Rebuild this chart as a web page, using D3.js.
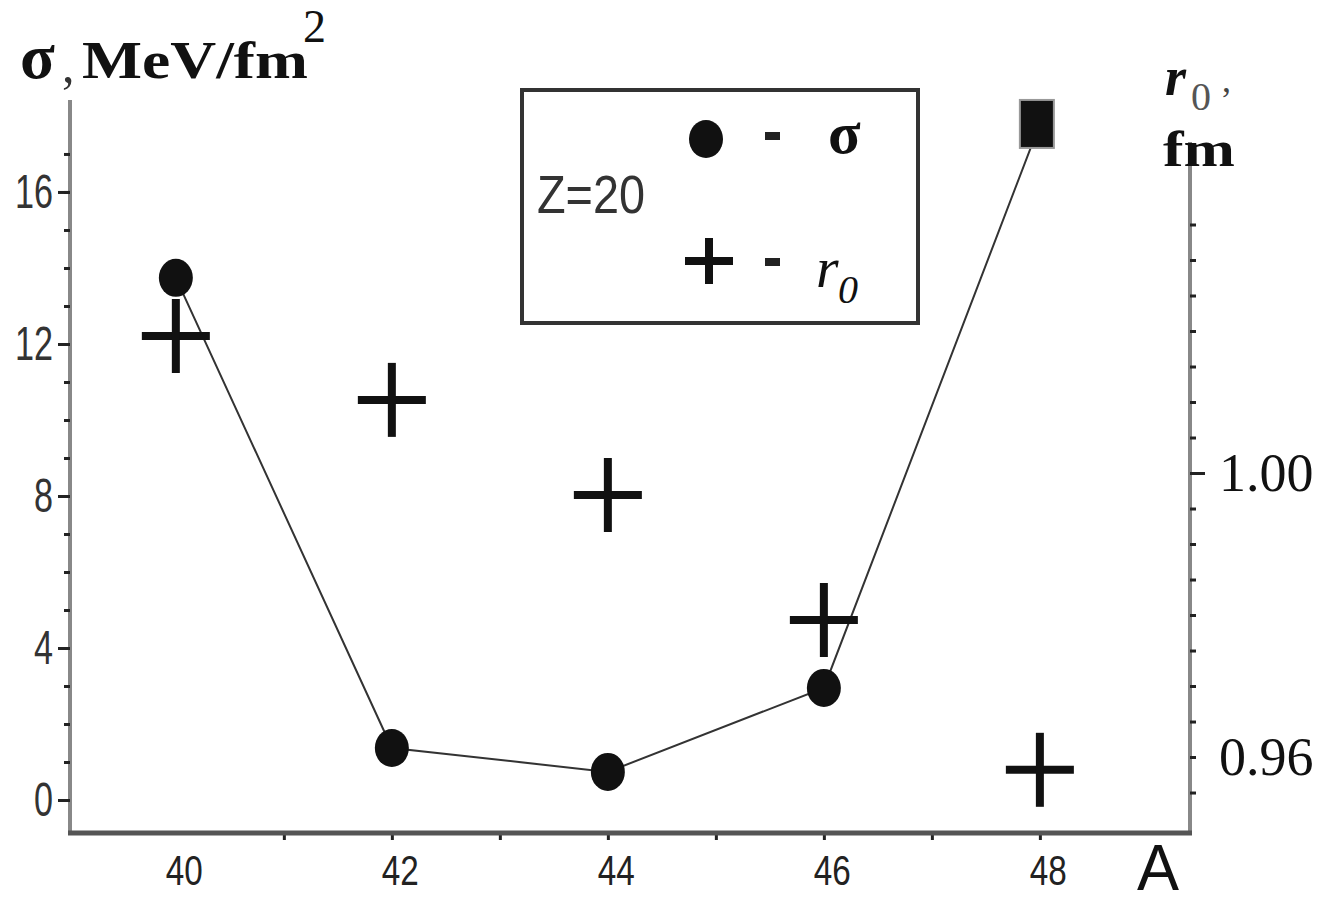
<!DOCTYPE html>
<html>
<head>
<meta charset="utf-8">
<script src="https://cdn.jsdelivr.net/npm/d3@7"></script>
<style>
  body { margin: 0; background: #fff; }
  svg { display: block; }
</style>
</head>
<body>
<div id="chart"></div>
<script>
// mass numbers and the two series
var massA = [40, 42, 44, 46, 48];
var sigma = [13.74, 1.37, 0.74, 2.95, 17.79];          // MeV/fm^2, left axis
var sigmaShape = ["circle", "circle", "circle", "circle", "square"];
var r0 = [1.0193, 1.0103, 0.9969, 0.9793, 0.9582];       // fm, right axis

var xLabels = [40, 42, 44, 46, 48];
var xMinor = [41, 42, 43, 44, 45, 46, 47, 48];
var sigmaLabels = [0, 4, 8, 12, 16];
var sigmaMinor = d3.range(0, 18);
var r0Labels = [0.96, 1.00];
var r0Minor = d3.range(0, 17).map(function(i){ return +(0.955 + i * 0.005).toFixed(3) });

const W = 1333, H = 905;
const left = 70, right = 1190, bottom = 833, topL = 100, topR = 142;

var svg = d3.select("#chart").append("svg")
    .attr("width", W)
    .attr("height", H);

var x = d3.scaleLinear().domain([39.02, 49.39]).range([left, right]);
var yL = d3.scaleLinear().domain([-0.868, 18.42]).range([bottom, topL]);
var yR = d3.scaleLinear().domain([0.9493, 1.04662]).range([bottom, topR]);

var sans = "'Liberation Sans', Arial, sans-serif",
    serif = "'Liberation Serif', 'Times New Roman', serif";

// each axis call gets its own group, otherwise the ticks overwrite each other
function axisGroup(tr, ax){
    var g = svg.append("g").attr("transform", tr).call(ax);
    g.select(".domain").remove();
    g.selectAll(".tick line").attr("stroke", "#222").attr("stroke-width", 3);
    return g;
}

// ---- left axis
svg.append("line").attr("x1", left).attr("x2", left).attr("y1", topL).attr("y2", bottom + 2)
    .attr("stroke", "#888").attr("stroke-width", 4);
axisGroup("translate(" + left + ",0)", d3.axisLeft(yL).tickValues(sigmaMinor).tickSize(6).tickFormat(""));
var gL = axisGroup("translate(" + left + ",0)",
    d3.axisLeft(yL).tickValues(sigmaLabels).tickSize(12).tickPadding(5).tickFormat(d3.format("d")));
gL.selectAll(".tick text")
    .attr("font-family", sans).attr("font-size", 48).attr("fill", "#333")
    .attr("textLength", function(d){ return String(d).length * 19 })
    .attr("lengthAdjust", "spacingAndGlyphs");

// ---- right axis
svg.append("line").attr("x1", right).attr("x2", right).attr("y1", topR).attr("y2", bottom + 2)
    .attr("stroke", "#888").attr("stroke-width", 4);
axisGroup("translate(" + right + ",0)", d3.axisRight(yR).tickValues(r0Minor).tickSize(6).tickFormat(""));
axisGroup("translate(" + right + ",0)", d3.axisRight(yR).tickValues([1.00]).tickSize(15).tickFormat(""));
var gR = axisGroup("translate(" + right + ",0)",
    d3.axisRight(yR).tickValues(r0Labels).tickSize(0).tickPadding(29).tickFormat(d3.format(".2f")));
gR.selectAll(".tick text")
    .attr("font-family", serif).attr("font-size", 54).attr("fill", "#111");

// ---- bottom axis
axisGroup("translate(0," + bottom + ")", d3.axisBottom(x).tickValues(xMinor).tickSize(7).tickFormat(""));
svg.append("line").attr("x1", left - 2).attr("x2", right + 2).attr("y1", bottom).attr("y2", bottom)
    .attr("stroke", "#555").attr("stroke-width", 5);
var gB = axisGroup("translate(0," + bottom + ")",
    d3.axisBottom(x).tickValues(xLabels).tickSize(0).tickPadding(22).tickFormat(d3.format("d")));
gB.selectAll(".tick text")
    .attr("font-family", sans).attr("font-size", 42).attr("fill", "#222")
    .attr("dx", 8)
    .attr("textLength", 37).attr("lengthAdjust", "spacingAndGlyphs");

// ---- sigma line + markers
var pts = massA.map(function(a, i){ return {a: a, s: sigma[i], shape: sigmaShape[i], r: r0[i]} });

svg.append("path")
    .datum(pts)
    .attr("fill", "none")
    .attr("stroke", "#333")
    .attr("stroke-width", 2)
    .attr("d", d3.line().x(d => x(d.a)).y(d => yL(d.s)));

svg.selectAll(".sig-c")
    .data(pts.filter(d => d.shape == "circle"))
    .enter().append("ellipse")
    .attr("class", "sig-c")
    .attr("cx", d => x(d.a)).attr("cy", d => yL(d.s))
    .attr("rx", 17).attr("ry", 19)
    .attr("fill", "#111");

svg.selectAll(".sig-s")
    .data(pts.filter(d => d.shape == "square"))
    .enter().append("rect")
    .attr("class", "sig-s")
    .attr("x", d => x(d.a) - 20).attr("y", d => yL(d.s) - 24)
    .attr("width", 34).attr("height", 48)
    .attr("fill", "#111").attr("stroke", "#999").attr("stroke-width", 2);

// ---- r0 crosses
var cross = svg.selectAll(".r0").data(pts).enter().append("g").attr("class", "r0");
cross.append("line")
    .attr("x1", d => x(d.a) - 34).attr("x2", d => x(d.a) + 34)
    .attr("y1", d => yR(d.r)).attr("y2", d => yR(d.r))
    .attr("stroke", "#111").attr("stroke-width", 8);
cross.append("line")
    .attr("x1", d => x(d.a)).attr("x2", d => x(d.a))
    .attr("y1", d => yR(d.r) - 37).attr("y2", d => yR(d.r) + 37)
    .attr("stroke", "#111").attr("stroke-width", 8);

// ---- titles
svg.append("text").attr("x", 20).attr("y", 78).attr("font-family", serif).attr("font-weight", "bold")
    .attr("font-size", 64).attr("fill", "#111").text("σ");
svg.append("text").attr("x", 62).attr("y", 82).attr("font-family", serif)
    .attr("font-size", 50).attr("fill", "#333").text(",");
svg.append("text").attr("x", 82).attr("y", 78).attr("font-family", serif).attr("font-weight", "bold")
    .attr("font-size", 52).attr("fill", "#111")
    .attr("textLength", 226).attr("lengthAdjust", "spacingAndGlyphs").text("MeV/fm");
svg.append("text").attr("x", 303).attr("y", 42).attr("font-family", serif)
    .attr("font-size", 46).attr("fill", "#111").text("2");

svg.append("text").attr("x", 1165).attr("y", 95).attr("font-family", serif).attr("font-weight", "bold")
    .attr("font-style", "italic").attr("font-size", 54).attr("fill", "#111").text("r");
svg.append("text").attr("x", 1191).attr("y", 110).attr("font-family", serif)
    .attr("font-size", 40).attr("fill", "#555").text("0");
svg.append("text").attr("x", 1222).attr("y", 92).attr("font-family", serif)
    .attr("font-size", 36).attr("fill", "#444").text(",");
svg.append("text").attr("x", 1163).attr("y", 166).attr("font-family", serif).attr("font-weight", "bold")
    .attr("font-size", 50).attr("fill", "#111")
    .attr("textLength", 72).attr("lengthAdjust", "spacingAndGlyphs").text("fm");

svg.append("text").attr("x", 1137).attr("y", 890).attr("font-family", sans)
    .attr("font-size", 64).attr("fill", "#111")
    .attr("textLength", 42).attr("lengthAdjust", "spacingAndGlyphs").text("A");

// ---- legend
var lg = svg.append("g");
lg.append("rect").attr("x", 522).attr("y", 90).attr("width", 396).attr("height", 233)
    .attr("fill", "#fff").attr("stroke", "#333").attr("stroke-width", 4);
lg.append("text").attr("x", 537).attr("y", 213).attr("font-family", sans)
    .attr("font-size", 54).attr("fill", "#333")
    .attr("textLength", 108).attr("lengthAdjust", "spacingAndGlyphs").text("Z=20");
lg.append("ellipse").attr("cx", 706).attr("cy", 139).attr("rx", 17).attr("ry", 19).attr("fill", "#111");
lg.append("rect").attr("x", 765).attr("y", 132).attr("width", 15).attr("height", 8).attr("fill", "#222");
lg.append("text").attr("x", 828).attr("y", 153).attr("font-family", serif).attr("font-weight", "bold")
    .attr("font-size", 60).attr("fill", "#111").text("σ");
lg.append("line").attr("x1", 685).attr("x2", 733).attr("y1", 261).attr("y2", 261)
    .attr("stroke", "#111").attr("stroke-width", 8);
lg.append("line").attr("x1", 709).attr("x2", 709).attr("y1", 238).attr("y2", 284)
    .attr("stroke", "#111").attr("stroke-width", 8);
lg.append("rect").attr("x", 765).attr("y", 258).attr("width", 15).attr("height", 8).attr("fill", "#222");
lg.append("text").attr("x", 816).attr("y", 287).attr("font-family", serif)
    .attr("font-style", "italic").attr("font-size", 58).attr("fill", "#111").text("r");
lg.append("text").attr("x", 838).attr("y", 303).attr("font-family", serif)
    .attr("font-style", "italic").attr("font-size", 40).attr("fill", "#111").text("0");
</script>
</body>
</html>
